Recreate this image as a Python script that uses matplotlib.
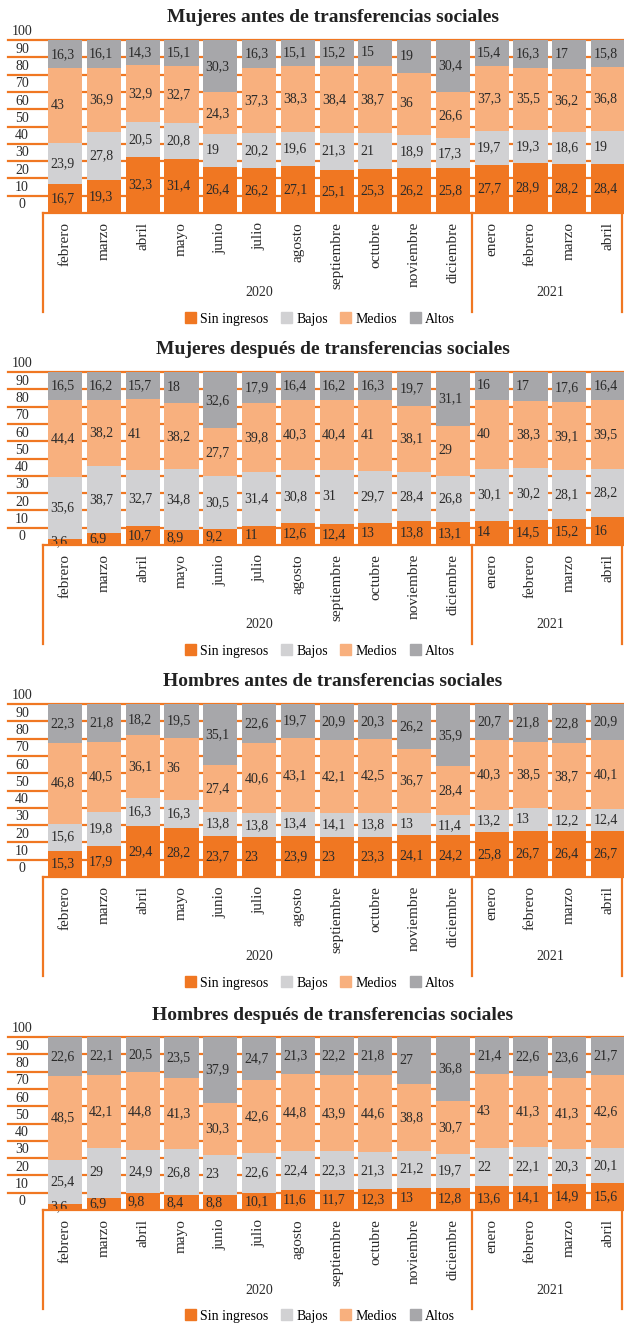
import matplotlib
matplotlib.use("Agg")
from matplotlib import pyplot as plt
from matplotlib.patches import Patch
import matplotlib.transforms as mtransforms
import numpy as np

# Datos
meses = ["febrero", "marzo", "abril", "mayo", "junio", "julio", "agosto",
         "septiembre", "octubre", "noviembre", "diciembre",
         "enero", "febrero", "marzo", "abril"]
anios = ["2020", "2021"]
series = ["Sin ingresos", "Bajos", "Medios", "Altos"]

titulos = ["Mujeres antes de transferencias sociales",
           "Mujeres después de transferencias sociales",
           "Hombres antes de transferencias sociales",
           "Hombres después de transferencias sociales"]

muj_antes_sin = [16.7, 19.3, 32.3, 31.4, 26.4, 26.2, 27.1, 25.1, 25.3, 26.2, 25.8, 27.7, 28.9, 28.2, 28.4]
muj_antes_baj = [23.9, 27.8, 20.5, 20.8, 19, 20.2, 19.6, 21.3, 21, 18.9, 17.3, 19.7, 19.3, 18.6, 19]
muj_antes_med = [43, 36.9, 32.9, 32.7, 24.3, 37.3, 38.3, 38.4, 38.7, 36, 26.6, 37.3, 35.5, 36.2, 36.8]
muj_antes_alt = [16.3, 16.1, 14.3, 15.1, 30.3, 16.3, 15.1, 15.2, 15, 19, 30.4, 15.4, 16.3, 17, 15.8]

muj_desp_sin = [3.6, 6.9, 10.7, 8.9, 9.2, 11, 12.6, 12.4, 13, 13.8, 13.1, 14, 14.5, 15.2, 16]
muj_desp_baj = [35.6, 38.7, 32.7, 34.8, 30.5, 31.4, 30.8, 31, 29.7, 28.4, 26.8, 30.1, 30.2, 28.1, 28.2]
muj_desp_med = [44.4, 38.2, 41, 38.2, 27.7, 39.8, 40.3, 40.4, 41, 38.1, 29, 40, 38.3, 39.1, 39.5]
muj_desp_alt = [16.5, 16.2, 15.7, 18, 32.6, 17.9, 16.4, 16.2, 16.3, 19.7, 31.1, 16, 17, 17.6, 16.4]

hom_antes_sin = [15.3, 17.9, 29.4, 28.2, 23.7, 23, 23.9, 23, 23.3, 24.1, 24.2, 25.8, 26.7, 26.4, 26.7]
hom_antes_baj = [15.6, 19.8, 16.3, 16.3, 13.8, 13.8, 13.4, 14.1, 13.8, 13, 11.4, 13.2, 13, 12.2, 12.4]
hom_antes_med = [46.8, 40.5, 36.1, 36, 27.4, 40.6, 43.1, 42.1, 42.5, 36.7, 28.4, 40.3, 38.5, 38.7, 40.1]
hom_antes_alt = [22.3, 21.8, 18.2, 19.5, 35.1, 22.6, 19.7, 20.9, 20.3, 26.2, 35.9, 20.7, 21.8, 22.8, 20.9]

hom_desp_sin = [3.6, 6.9, 9.8, 8.4, 8.8, 10.1, 11.6, 11.7, 12.3, 13, 12.8, 13.6, 14.1, 14.9, 15.6]
hom_desp_baj = [25.4, 29, 24.9, 26.8, 23, 22.6, 22.4, 22.3, 21.3, 21.2, 19.7, 22, 22.1, 20.3, 20.1]
hom_desp_med = [48.5, 42.1, 44.8, 41.3, 30.3, 42.6, 44.8, 43.9, 44.6, 38.8, 30.7, 43, 41.3, 41.3, 42.6]
hom_desp_alt = [22.6, 22.1, 20.5, 23.5, 37.9, 24.7, 21.3, 22.2, 21.8, 27, 36.8, 21.4, 22.6, 23.6, 21.7]

paneles = [
    [muj_antes_sin, muj_antes_baj, muj_antes_med, muj_antes_alt],
    [muj_desp_sin, muj_desp_baj, muj_desp_med, muj_desp_alt],
    [hom_antes_sin, hom_antes_baj, hom_antes_med, hom_antes_alt],
    [hom_desp_sin, hom_desp_baj, hom_desp_med, hom_desp_alt],
]

colores = ["#F07722", "#D1D1D3", "#F8B07E", "#A7A7AA"]
naranja = "#F07722"
texto = "#2a2a2a"

plt.rcParams['font.family'] = ['Liberation Serif', 'DejaVu Serif']

W, H = 624, 1323
fig = plt.figure(figsize=(W / 100, H / 100), dpi=100)

# posiciones en pixeles (arriba de barras)
tops = [40, 372, 704, 1037]
alto = 173
izq, der = 43, 624


def fmt(v):
    s = ("%.1f" % v).rstrip("0").rstrip(".")
    return s.replace(".", ",")


x = np.arange(len(meses))
for p in range(4):
    top = tops[p]
    bot = top + alto
    ax = fig.add_axes([izq / W, 1 - bot / H, (der - izq) / W, alto / H])
    ax.set_xlim(-0.57, 14.41)
    ax.set_ylim(0, 100)
    ax.axis("off")

    # lineas guia naranjas
    trans = mtransforms.blended_transform_factory(ax.transAxes, ax.transData)
    for g in range(10, 101, 10):
        ax.plot([-(izq - 8) / (der - izq), 1], [g, g], color=naranja, lw=1.6,
                transform=trans, clip_on=False, zorder=0)
    for g in range(0, 101, 10):
        ax.text(-(izq - 22) / (der - izq), g + 4.7, str(g), transform=trans,
                ha="center", va="center", fontsize=10, color=texto)

    datos = paneles[p]
    base = np.zeros(len(meses))
    for i, serie in enumerate(datos):
        vals = np.array(serie, dtype=float)
        ax.bar(x, vals, bottom=base, width=0.88, color=colores[i], zorder=2)
        for j in range(len(x)):
            ax.text(x[j] - 0.38, base[j] + vals[j] / 2, fmt(vals[j]),
                    ha="left", va="center", fontsize=10, color=texto, zorder=3)
        base = base + vals

    # eje inferior y separadores
    ax.plot([-0.57, 14.41], [0, 0], color=naranja, lw=1.6, clip_on=False, zorder=3)
    bajo = -99 / alto * 100
    for xv in [-0.57, 10.5, 14.35]:
        ax.plot([xv, xv], [0, bajo], color=naranja, lw=1.6, clip_on=False)

    for j, m in enumerate(meses):
        ax.text(x[j], -9 / alto * 100, m, rotation=90, ha="center", va="top",
                fontsize=11, color=texto)
    ax.text(5, -80 / alto * 100, anios[0], ha="center", va="center", fontsize=10, color=texto)
    ax.text(12.5, -80 / alto * 100, anios[1], ha="center", va="center", fontsize=10, color=texto)

    fig.text(333 / W, 1 - (top - 22) / H, titulos[p], ha="center", va="center",
             fontsize=14, fontweight="bold", color="#222222")

    handles = [Patch(color=c, label=s) for c, s in zip(colores, series)]
    fig.legend(handles=handles, loc="center", ncol=4,
               bbox_to_anchor=(320 / W, 1 - (bot + 106) / H), frameon=False,
               fontsize=10, handlelength=0.8, handleheight=0.8,
               handletextpad=0.3, columnspacing=0.9, borderpad=0)

fig.savefig("out.png", dpi=100)
